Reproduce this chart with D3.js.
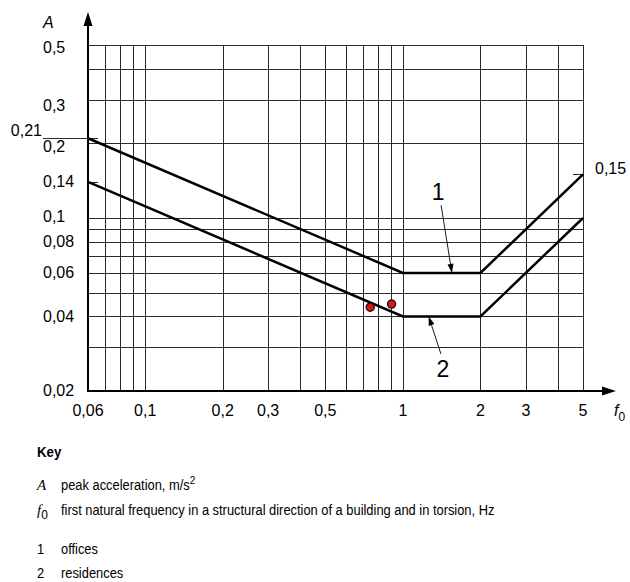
<!DOCTYPE html>
<html><head><meta charset="utf-8">
<script src="https://cdn.jsdelivr.net/npm/d3@7"></script>
<style>body{margin:0;background:#fff}svg{display:block}</style>
</head><body><svg id="c" width="630" height="582"></svg>
<script>
// ---- data ----
const xTickValues = [0.06, 0.1, 0.2, 0.3, 0.5, 1, 2, 3, 5];
const xTickLabels = ["0,06", "0,1", "0,2", "0,3", "0,5", "1", "2", "3", "5"];
const xGridValues = [0.07, 0.08, 0.09, 0.1, 0.2, 0.3, 0.4, 0.5, 0.6, 0.7, 0.8, 0.9, 1, 2, 3, 4, 5];
const yTickValues = [0.5, 0.3, 0.2, 0.14, 0.1, 0.08, 0.06, 0.04, 0.02];
const yTickLabels = ["0,5", "0,3", "0,2", "0,14", "0,1", "0,08", "0,06", "0,04", "0,02"];
const yGridValues = [0.03, 0.04, 0.05, 0.06, 0.07, 0.08, 0.09, 0.1, 0.2, 0.3, 0.4, 0.5];
const officesF = [0.06, 1, 2, 5];
const officesA = [0.21, 0.06, 0.06, 0.15];
const residencesF = [0.06, 1, 2, 5];
const residencesA = [0.14, 0.04, 0.04, 0.10];
const measuredF = [0.747, 0.904];
const measuredA = [0.0436, 0.0449];
const annotNames = ["1", "2"];
const annotTipF = [1.55, 1.26];
const annotTipA = [0.06, 0.04];
const annotLabelF = [1.37, 1.43];
const annotLabelA = [0.118, 0.0228];
const keySymbols = ["A", "f0", "1", "2"];
const keyTexts = ["peak acceleration, m/s", "first natural frequency in a structural direction of a building and in torsion, Hz", "offices", "residences"];

// ---- drawing ----
const svg = d3.select("#c");
const x = d3.scaleLog().domain([0.06, 5]).range([88, 583]);
const y = d3.scaleLog().domain([0.02, 0.5]).range([391, 45]);
const FONT = "'Liberation Sans', Arial, sans-serif";
const SERIF = "'Liberation Serif', 'Times New Roman', serif";

// grid
const grid = svg.append("g").attr("stroke", "#2a2a2a").attr("stroke-width", 1).attr("shape-rendering", "crispEdges");
grid.selectAll("line.v").data(xGridValues).join("line").attr("class", "v")
  .attr("x1", d => Math.round(x(d)) + 0.5).attr("x2", d => Math.round(x(d)) + 0.5)
  .attr("y1", y(0.5)).attr("y2", y(0.02));
grid.selectAll("line.h").data(yGridValues).join("line").attr("class", "h")
  .attr("y1", d => Math.round(y(d)) + 0.5).attr("y2", d => Math.round(y(d)) + 0.5)
  .attr("x1", x(0.06)).attr("x2", x(5));

// special ticks
grid.append("line").attr("x1", 43).attr("x2", x(0.06) + 10).attr("y1", Math.round(y(0.21)) + 0.5).attr("y2", Math.round(y(0.21)) + 0.5);
grid.append("line").attr("x1", x(0.06)).attr("x2", x(0.06) + 10).attr("y1", Math.round(y(0.14)) + 0.5).attr("y2", Math.round(y(0.14)) + 0.5);
grid.append("line").attr("x1", x(5) - 10).attr("x2", x(5)).attr("y1", Math.round(y(0.15)) + 0.5).attr("y2", Math.round(y(0.15)) + 0.5);

// curves
const line = d3.line().x(d => x(d[0])).y(d => y(d[1]));
svg.append("path").datum(officesF.map((f, i) => [f, officesA[i]]))
  .attr("d", line).attr("fill", "none").attr("stroke", "#000").attr("stroke-width", 2.5).attr("stroke-linejoin", "miter");
svg.append("path").datum(residencesF.map((f, i) => [f, residencesA[i]]))
  .attr("d", line).attr("fill", "none").attr("stroke", "#000").attr("stroke-width", 2.5).attr("stroke-linejoin", "miter");

// axes
const ax = svg.append("g").attr("stroke", "#000").attr("stroke-width", 2);
ax.append("line").attr("x1", x(0.06)).attr("x2", x(0.06)).attr("y1", y(0.02) + 1).attr("y2", 24);
ax.append("line").attr("x1", x(0.06) - 1).attr("x2", 604).attr("y1", y(0.02)).attr("y2", y(0.02));
svg.append("path").attr("d", `M${x(0.06)},12 L${x(0.06) - 4.5},26 L${x(0.06) + 4.5},26 Z`).attr("fill", "#000");
svg.append("path").attr("d", `M616,${y(0.02)} L602,${y(0.02) - 4.5} L602,${y(0.02) + 4.5} Z`).attr("fill", "#000");

// tick labels
const yOff = {"0,5": 2, "0,3": 6, "0,2": 3, "0,14": 0, "0,1": -2, "0,08": 0, "0,06": 0, "0,04": 0, "0,02": -1};
svg.append("g").selectAll("text").data(yTickValues).join("text")
  .attr("x", 43).attr("y", (d, i) => y(d) + yOff[yTickLabels[i]] + 5.5)
  .attr("font-family", FONT).attr("font-size", 16).attr("fill", "#000")
  .text((d, i) => yTickLabels[i]);
svg.append("text").attr("x", 42).attr("y", y(0.21) - 2).attr("text-anchor", "end")
  .attr("font-family", FONT).attr("font-size", 16).text("0,21");
svg.append("text").attr("x", 595).attr("y", y(0.15)).attr("font-family", FONT).attr("font-size", 16).text("0,15");
svg.append("g").selectAll("text").data(xTickValues).join("text")
  .attr("x", d => x(d)).attr("y", 416).attr("text-anchor", "middle")
  .attr("font-family", FONT).attr("font-size", 16).attr("fill", "#000")
  .text((d, i) => xTickLabels[i]);

// axis titles
svg.append("text").attr("x", 43).attr("y", 28).attr("font-family", FONT).attr("font-style", "italic").attr("font-size", 16).text("A");
const ft = svg.append("text").attr("x", 614).attr("y", 416).attr("font-family", FONT).attr("font-size", 16);
ft.append("tspan").attr("font-style", "italic").text("f");
ft.append("tspan").attr("dy", 5).attr("font-size", 12).text("0");

// measured points
svg.append("g").selectAll("circle").data(measuredF).join("circle")
  .attr("cx", d => x(d)).attr("cy", (d, i) => y(measuredA[i])).attr("r", 4)
  .attr("fill", "#e8101a").attr("stroke", "#1a1a1a").attr("stroke-width", 1.5);

// annotations
annotNames.forEach((n, i) => {
  const lx = x(annotLabelF[i]), ly = y(annotLabelA[i]);
  const tx = x(annotTipF[i]), ty = y(annotTipA[i]);
  svg.append("text").attr("x", lx).attr("y", ly).attr("text-anchor", "middle")
    .attr("font-family", FONT).attr("font-size", 23).text(n);
  const sx = lx + (i === 0 ? 3 : -2), sy = i === 0 ? ly + 5 : ly - 23;
  const ang = Math.atan2(ty - sy, tx - sx);
  const hl = 9, hw = 3;
  const bx = tx - hl * Math.cos(ang), by = ty - hl * Math.sin(ang);
  svg.append("line").attr("x1", sx).attr("y1", sy).attr("x2", bx).attr("y2", by)
    .attr("stroke", "#000").attr("stroke-width", 0.9);
  svg.append("path").attr("d", `M${tx},${ty} L${bx + hw * Math.sin(ang)},${by - hw * Math.cos(ang)} L${bx - hw * Math.sin(ang)},${by + hw * Math.cos(ang)} Z`)
    .attr("fill", "#000");
});

// key
svg.append("text").attr("transform", "translate(37,457) scale(0.95,1)").attr("font-family", FONT).attr("font-weight", "bold").attr("font-size", 14).text("Key");
const keyY = [490, 515, 554, 578];
keySymbols.forEach((s, i) => {
  const t = svg.append("text").attr("x", 37).attr("y", keyY[i]).attr("font-size", 15);
  if (s === "A") { t.attr("font-family", SERIF).attr("font-style", "italic").text("A"); }
  else if (s === "f0") {
    t.attr("font-family", SERIF);
    t.append("tspan").attr("font-style", "italic").text("f");
    t.append("tspan").attr("dy", 4).attr("font-size", 12).attr("font-family", FONT).text("0");
  } else { t.attr("transform", `translate(37,${keyY[i]}) scale(0.92,1)`).attr("x", 0).attr("y", 0).attr("font-family", FONT).attr("font-size", 14).text(s); }
  const k = svg.append("text").attr("transform", `translate(61,${keyY[i]}) scale(0.92,1)`)
    .attr("font-family", FONT).attr("font-size", 14).text(keyTexts[i]);
  if (i === 0) k.append("tspan").attr("dy", -6).attr("font-size", 11).text("2");
});
</script>
</body></html>
